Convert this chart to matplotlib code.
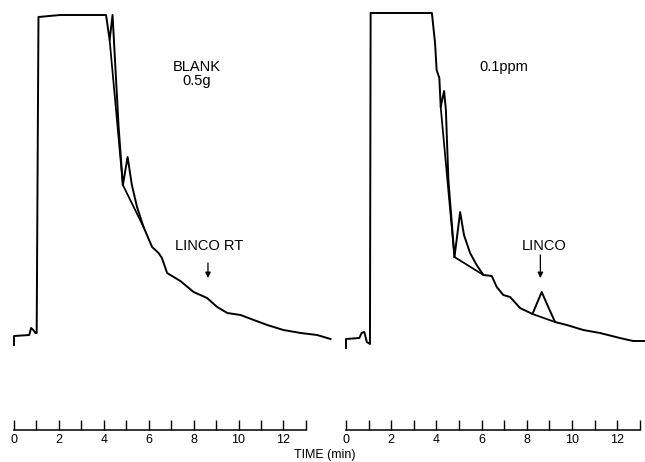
import matplotlib
matplotlib.use("Agg")
import matplotlib.pyplot as plt

plt.rcParams['font.family'] = ['Liberation Sans', 'DejaVu Sans']

# ---- data (time in min, detector response in arbitrary units) ----
blank_time = [0.0, 0.0, 0.68, 0.76, 0.86, 0.95, 1.01, 1.09, 2.05, 4.10, 4.26, 4.39,
              4.66, 4.85, 5.06, 5.25, 5.48, 5.77, 6.15, 6.44, 6.59, 6.82, 7.41, 8.00,
              8.60, 9.05, 9.50, 10.09, 10.68, 11.28, 12.00, 12.77, 13.50, 14.10]
blank_resp = [0, 9, 10, 17, 15, 12, 12, 328, 330, 330, 305, 330,
              218, 160, 188, 160, 138, 118, 98, 92, 87, 72, 64, 53,
              47, 38, 32, 30, 25, 20, 15, 12, 10, 6]
blank_base1_time = [4.26, 4.85]
blank_base1_resp = [305, 160]
blank_base2_time = [4.85, 5.77]
blank_base2_resp = [160, 118]

spike_time = [0.0, 0.0, 0.59, 0.69, 0.81, 0.92, 1.06, 1.09, 3.80, 3.94, 4.01, 4.13,
              4.19, 4.34, 4.42, 4.53, 4.80, 5.05, 5.22, 5.49, 5.78, 6.08, 6.45, 6.67,
              6.96, 7.26, 7.70, 8.25, 8.66, 8.95, 9.25, 9.77, 10.50, 11.24, 12.12,
              12.70, 13.20]
spike_resp = [-3, 6, 7, 12, 13, 3, 1, 332, 332, 302, 275, 267,
              238, 254, 235, 165, 88, 133, 110, 92, 80, 70, 69, 58,
              50, 48, 37, 31, 53, 38, 23, 20, 15, 12, 7,
              4, 4]
spike_base1_time = [4.19, 4.80]
spike_base1_resp = [238, 88]
spike_base2_time = [4.80, 6.08]
spike_base2_resp = [88, 70]
spike_base3_time = [8.25, 9.25]
spike_base3_resp = [31, 23]

panel_labels = ["BLANK\n0.5g", "0.1ppm"]
rt_labels = ["LINCO RT", "LINCO"]
rt_time = [8.64, 8.6]
major_ticks = [0, 2, 4, 6, 8, 10, 12]
minor_ticks = [1, 3, 5, 7, 9, 11, 13]

W, H = 645, 462
fig = plt.figure(figsize=(W / 100, H / 100), dpi=100)

ylo, yhi = -85, 345
axis_px = 430


def make_ax(x0_px, px_per_min, tmin, tmax):
    left = x0_px + px_per_min * tmin
    width = px_per_min * (tmax - tmin)
    ax = fig.add_axes([left / W, (H - axis_px) / H, width / W, axis_px / H])
    ax.set_xlim(tmin, tmax)
    ax.set_ylim(ylo, yhi)
    for s in ['top', 'right', 'left']:
        ax.spines[s].set_visible(False)
    ax.spines['bottom'].set_bounds(0, 13)
    ax.spines['bottom'].set_linewidth(1.1)
    ax.set_yticks([])
    ax.set_xticks(major_ticks)
    ax.set_xticks(minor_ticks, minor=True)
    ax.tick_params(axis='x', which='both', direction='in', length=7, width=1.0,
                   pad=3.0, labelsize=9)
    ax.patch.set_alpha(0)
    return ax


axL = make_ax(14, 22.45, -0.5, 14.5)
axR = make_ax(346, 22.6, -0.5, 13.4)

lw = 1.4
axL.plot(blank_time, blank_resp, color='black', lw=lw, clip_on=False)
axL.plot(blank_base1_time, blank_base1_resp, color='black', lw=lw * 0.9)
axL.plot(blank_base2_time, blank_base2_resp, color='black', lw=lw * 0.9)

axR.plot(spike_time, spike_resp, color='black', lw=lw, clip_on=False)
axR.plot(spike_base1_time, spike_base1_resp, color='black', lw=lw * 0.9)
axR.plot(spike_base2_time, spike_base2_resp, color='black', lw=lw * 0.9)
axR.plot(spike_base3_time, spike_base3_resp, color='black', lw=lw * 0.9)

# annotations
axL.text(8.12, 345 - 74, panel_labels[0], ha='center', va='center', fontsize=10.5,
         linespacing=1.0)
axR.text(6.99, 345 - 67, panel_labels[1], ha='center', va='center', fontsize=10.5)

axL.text(8.69, 345 - 246, rt_labels[0], ha='center', va='center', fontsize=10.5)
axR.text(8.75, 345 - 246, rt_labels[1], ha='center', va='center', fontsize=10.5)

arrow_kw = dict(arrowstyle='-|>', color='black', lw=0.9, mutation_scale=8,
                shrinkA=0, shrinkB=0)
axL.annotate('', xy=(rt_time[0], 345 - 278), xytext=(rt_time[0], 345 - 263),
             arrowprops=arrow_kw)
axR.annotate('', xy=(rt_time[1], 345 - 278), xytext=(rt_time[1], 345 - 255),
             arrowprops=arrow_kw)

fig.text(325 / W, (H - 455) / H, "TIME (min)", ha='center', va='center', fontsize=9)

fig.savefig("out.png", dpi=100)
